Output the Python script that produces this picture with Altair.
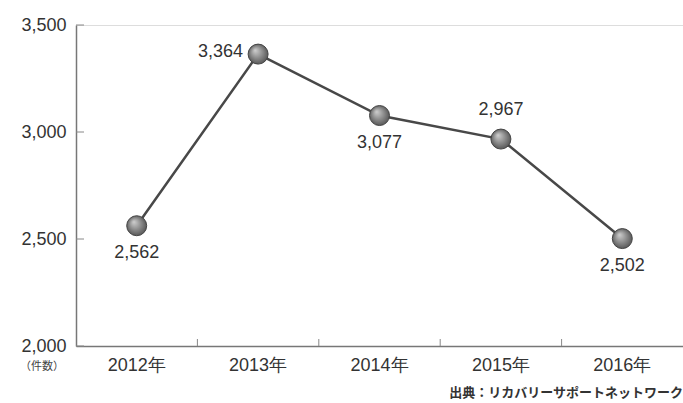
import altair as alt
import pandas as pd

years = ["2012年", "2013年", "2014年", "2015年", "2016年"]
counts = [2562, 3364, 3077, 2967, 2502]
label_pos = ["below", "left", "below", "above", "below"]
y_ticks = [2000, 2500, 3000, 3500]

df = pd.DataFrame({"year": years, "count": counts, "pos": label_pos})
df["label"] = df["count"].map(lambda v: f"{v:,}")
ticks_df = pd.DataFrame({"v": y_ticks})

FONT = "Liberation Sans"
xaxis = alt.Axis(title=None, labelFontSize=18, labelFont=FONT, labelColor="#333",
                 labelAngle=0, domainColor="#777", domainWidth=1.5, ticks=False,
                 labelPadding=10)
yaxis = alt.Axis(title=None, values=y_ticks, format=",d", labelFontSize=18, labelFont=FONT,
                 labelColor="#333", domainColor="#777", domainWidth=1.5, ticks=False,
                 labelPadding=10, grid=False)
xscale = alt.Scale(paddingInner=0, paddingOuter=0)
yscale = alt.Scale(domain=[2000, 3500], nice=False, zero=False)
x = alt.X("year:N", sort=years, scale=xscale, axis=xaxis)
y = alt.Y("count:Q", scale=yscale, axis=yaxis)

base = alt.Chart(df)
line = base.mark_line(color="#484848", strokeWidth=2.5).encode(x=x, y=y)
pts = base.mark_point(
    filled=True, size=400, opacity=1, shape="circle", stroke="#444", strokeWidth=1,
    fill=alt.Gradient(gradient="radial", stops=[alt.GradientStop(offset=0, color="#d0d0d0"),
                                                 alt.GradientStop(offset=1, color="#505050")],
                      x1=0.35, y1=0.3, r1=0, x2=0.5, y2=0.5, r2=0.55)
).encode(x=x, y=y)

def lab(pos, **kw):
    return base.transform_filter(alt.datum.pos == pos).mark_text(
        fontSize=18, font=FONT, color="#333", **kw).encode(x=x, y=y, text="label:N")

below = lab("below", dy=27)
above = lab("above", dy=-29)
left = lab("left", dx=-15, dy=-2, align="right")

xt = alt.Chart(pd.DataFrame({"year": years[1:]})).mark_rule(color="#888", strokeWidth=1).encode(
    x=alt.X("year:N", sort=years, bandPosition=0, scale=xscale, axis=xaxis),
    y=alt.value(321), y2=alt.value(314))
yt = alt.Chart(ticks_df).mark_rule(color="#888", strokeWidth=1).encode(
    y=alt.Y("v:Q", scale=yscale, axis=yaxis), x=alt.value(0), x2=alt.value(8))

unit = alt.Chart(pd.DataFrame({"t": ["（件数）"]})).mark_text(
    fontSize=11, font="Noto Sans CJK JP", color="#444", align="right").encode(
    text="t:N", x=alt.value(-12), y=alt.value(342))
src = alt.Chart(pd.DataFrame({"t": ["出典：リカバリーサポートネットワーク"]})).mark_text(
    fontSize=13, font="Noto Sans CJK JP", color="#333", align="right", fontWeight="bold").encode(
    text="t:N", x=alt.value(607), y=alt.value(368))

chart = alt.layer(line, pts, xt, yt, below, above, left, unit, src).properties(
    width=607, height=321,
    autosize=alt.AutoSizeParams(type="none"),
    padding={"left": 76, "top": 25, "right": 0, "bottom": 57},
).configure_view(fill="#f3f3f3", stroke=None).configure(background="white")

chart.save("out.html", embed_options={"renderer": "svg", "actions": False})
